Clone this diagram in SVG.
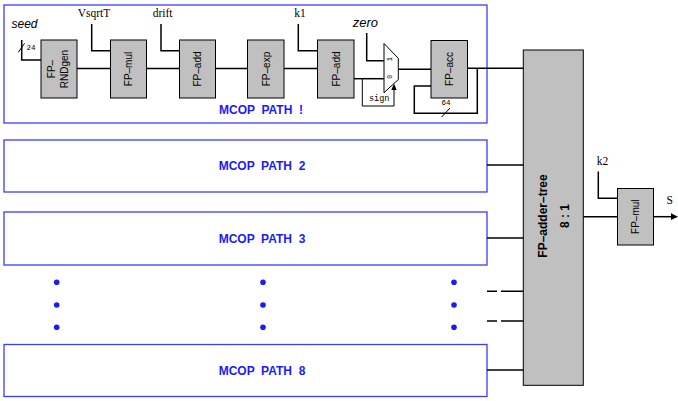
<svg xmlns="http://www.w3.org/2000/svg" width="678" height="401" viewBox="0 0 678 401">
<style>
.blk{fill:#c0c0c0;stroke:#000;stroke-width:1}
.pbox{fill:#fff;stroke:#3c3cff;stroke-width:1.3}
.lbl{font-family:"Liberation Sans",Arial,sans-serif;font-size:10px;text-anchor:middle;fill:#000}
.plbl{font-family:"Liberation Sans",Arial,sans-serif;font-weight:bold;font-size:12px;fill:#1a1aff;text-anchor:middle;white-space:pre}
.big{font-family:"Liberation Sans",Arial,sans-serif;font-weight:bold;font-size:12px;text-anchor:middle;fill:#000}
.wire{fill:none;stroke:#000;stroke-width:1.5}
.thin{fill:none;stroke:#000;stroke-width:1}
.serif{font-family:"Liberation Serif","Times New Roman",serif;font-size:11.5px;fill:#000}
.ital{font-family:"Liberation Sans",Arial,sans-serif;font-style:italic;font-size:12px;fill:#000}
.mono{font-family:"Liberation Mono","Courier New",monospace;font-size:8px;fill:#000}
.dot{fill:#1a1aff}
</style>

<g id="path1">
<rect class="pbox" x="4" y="5" width="483" height="118"/>
<text class="plbl" x="261" y="114" xml:space="preserve">MCOP  PATH  !</text>
</g>
<g id="path2">
<rect class="pbox" x="4" y="140" width="483" height="52"/>
<text class="plbl" x="262" y="170" xml:space="preserve">MCOP  PATH  2</text>
</g>
<g id="path3">
<rect class="pbox" x="4" y="212" width="483" height="53"/>
<text class="plbl" x="262" y="243" xml:space="preserve">MCOP  PATH  3</text>
</g>
<g id="path8">
<rect class="pbox" x="4" y="344.5" width="483" height="52"/>
<text class="plbl" x="262" y="375" xml:space="preserve">MCOP  PATH  8</text>
</g>

<g id="dots">
<circle class="dot" cx="56.7" cy="282.3" r="2.8"/>
<circle class="dot" cx="56.7" cy="305" r="2.8"/>
<circle class="dot" cx="56.7" cy="327.3" r="2.8"/>
<circle class="dot" cx="263" cy="282.3" r="2.8"/>
<circle class="dot" cx="263" cy="305" r="2.8"/>
<circle class="dot" cx="263" cy="327.3" r="2.8"/>
<circle class="dot" cx="454" cy="282.3" r="2.8"/>
<circle class="dot" cx="454" cy="305" r="2.8"/>
<circle class="dot" cx="454" cy="327.3" r="2.8"/>
</g>

<g id="rndgen">
<rect class="blk" x="41" y="40" width="36" height="58"/>
<text class="lbl" transform="translate(55,69) rotate(-90)">FP–</text>
<text class="lbl" transform="translate(68,69) rotate(-90)">RNDgen</text>
</g>
<g id="mul1">
<rect class="blk" x="110.5" y="40" width="36" height="58"/>
<text class="lbl" transform="translate(132,69) rotate(-90)">FP–mul</text>
</g>
<g id="add1">
<rect class="blk" x="179.5" y="40" width="36" height="58"/>
<text class="lbl" transform="translate(201,69) rotate(-90)">FP–add</text>
</g>
<g id="exp">
<rect class="blk" x="247.5" y="40" width="36.5" height="58"/>
<text class="lbl" transform="translate(269.5,69) rotate(-90)">FP–exp</text>
</g>
<g id="add2">
<rect class="blk" x="317.5" y="40" width="36.5" height="58"/>
<text class="lbl" transform="translate(339.5,69) rotate(-90)">FP–add</text>
</g>
<g id="mux">
<polygon points="384,43.5 398.3,58.3 398.3,79.5 384,92.7" fill="#fff" stroke="#000" stroke-width="1"/>
<text class="mono" style="font-size:7px;text-anchor:middle" transform="translate(392,59.2) rotate(-90)">1</text>
<text class="mono" style="font-size:7px;text-anchor:middle" transform="translate(392,76.7) rotate(-90)">0</text>
</g>
<g id="acc">
<rect class="blk" x="431" y="40.5" width="36.5" height="57.5"/>
<text class="lbl" transform="translate(453,69) rotate(-90)">FP–acc</text>
</g>

<g id="addertree">
<rect class="blk" x="523.3" y="50" width="60" height="335.3"/>
<text class="big" transform="translate(547,216) rotate(-90)">FP–adder–tree</text>
<text class="big" transform="translate(568.5,216) rotate(-90)">8 : 1</text>
</g>
<g id="mul2">
<rect class="blk" x="617.5" y="188.5" width="36" height="56.5"/>
<text class="lbl" transform="translate(639,216.7) rotate(-90)">FP–mul</text>
</g>

<g id="connectors">
<path class="wire" d="M21.7,40 V60 H41"/>
<path class="thin" d="M18.3,52.3 L24.5,43.5"/>
<path class="wire" d="M91.7,24 V50.7 H110.5"/>
<path class="wire" d="M77,68.5 H110.5"/>
<path class="wire" d="M146.5,68.5 H179.5"/>
<path class="wire" d="M161,24 V50.7 H179.5"/>
<path class="wire" d="M215.5,68.5 H247.5"/>
<path class="wire" d="M284,68.5 H317.5"/>
<path class="wire" d="M298.3,24 V50.7 H317.5"/>
<path class="wire" d="M354,78.7 H384"/>
<path class="thin" d="M362.3,78.7 V106 H394 V89"/>
<polygon points="394,83.5 391.3,90 396.7,90" fill="#000"/>
<path class="wire" d="M366.7,33 V60.7 H384"/>
<path class="wire" d="M398.3,69.3 H431"/>
<path class="wire" d="M467.5,68.3 H523.3"/>
<path class="wire" d="M477.3,68.3 V113.3 H414.3 V86 H431"/>
<path class="thin" d="M441.7,117 L450,108"/>
<path class="wire" d="M487,165 H523.3"/>
<path class="wire" d="M487,238 H523.3"/>
<path class="wire" d="M487,370 H523.3"/>
<path class="wire" d="M487,291.3 H497 M501,291.3 H523.3"/>
<path class="wire" d="M487,321 H497 M501,321 H523.3"/>
<path class="wire" d="M583.3,216.7 H617.5"/>
<path class="wire" d="M598.3,171.5 V198.3 H617.5"/>
<path class="wire" d="M653.5,216.7 H672"/>
<polygon points="678,216.7 671,213.3 671,220.1" fill="#000"/>
</g>

<g id="labels">
<text class="ital" x="11.5" y="27.5">seed</text>
<text class="mono" style="font-size:7.5px" x="26.5" y="50">24</text>
<text class="serif" x="77.7" y="17.3">VsqrtT</text>
<text class="serif" x="152.7" y="17.3">drift</text>
<text class="serif" x="294.3" y="17.3">k1</text>
<text class="ital" style="font-size:13px" x="352.7" y="26.7">zero</text>
<text class="mono" style="font-size:8.5px" x="369" y="101">sign</text>
<text class="mono" style="font-size:7.5px" x="441.5" y="105">64</text>
<text class="serif" x="596.7" y="165">k2</text>
<text class="serif" x="666.5" y="204.3">S</text>
</g>
</svg>
